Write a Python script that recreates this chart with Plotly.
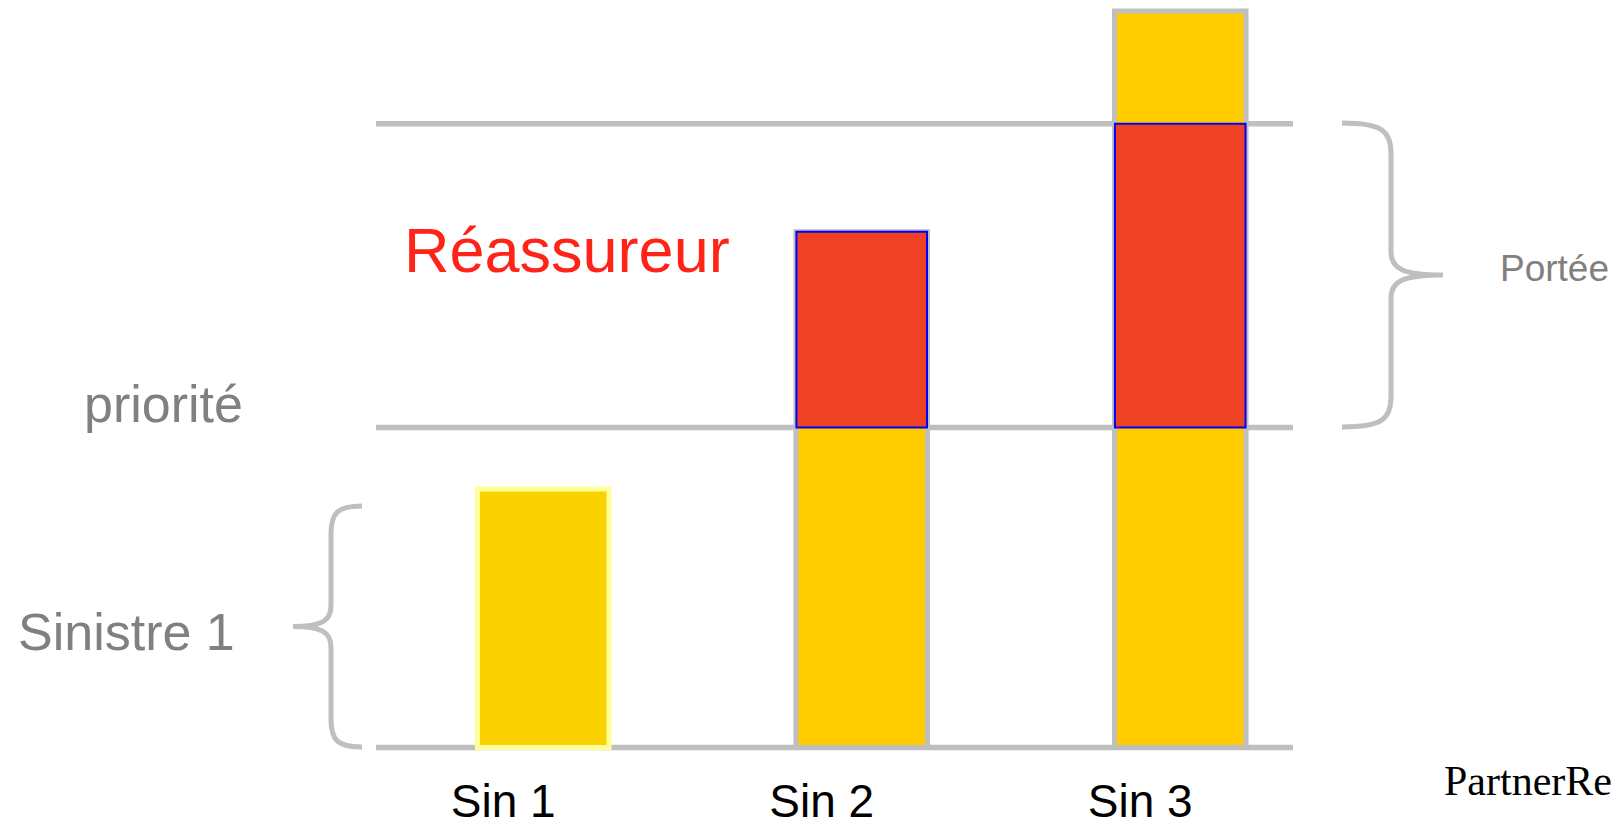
import plotly.graph_objects as go

# ---- data ----
categories = ["Sin 1", "Sin 2", "Sin 3"]
sinistres = [80.8, 161.2, 230.3]      # total claim amount per loss
priorite = 100                         # retention (priorité)
plafond = 195                          # retention + cover (portée)

reass_x = [c for c, v in zip(categories, sinistres) if v > priorite]
reass_part = [min(v, plafond) - priorite for v in sinistres if v > priorite]

# ---- layout constants ----
OFF = 8                      # default page body margin
W, H = 1623 - OFF, 825 - OFF
L, R, T, B = 376 - OFF, 330, 0, 68
YR = [-3, 231.2]
XR = [-0.525, 2.354]
PW, PH = W - L - R, H - T - B

GRAY = "#BFBFBF"
TXT_GRAY = "#808080"


def xp(px):
    # page pixel -> paper x
    return (px - OFF - L) / PW


def yp(py):
    # page pixel -> paper y
    return (H - B - (py - OFF)) / PH


def brace(xe, xs, xt, yt, yb, r, r2):
    ym = (yt + yb) / 2
    pts = [
        ("M", [(xe, yt)]),
        ("C", [(xe + (xs - xe) * 0.8, yt), (xs, yt + r * 0.25), (xs, yt + r)]),
        ("L", [(xs, ym - r2)]),
        ("C", [(xs, ym - r2 * 0.25), (xs + (xt - xs) * 0.25, ym), (xt, ym)]),
        ("C", [(xs + (xt - xs) * 0.25, ym), (xs, ym + r2 * 0.25), (xs, ym + r2)]),
        ("L", [(xs, yb - r)]),
        ("C", [(xs, yb - r * 0.25), (xe + (xs - xe) * 0.8, yb), (xe, yb)]),
    ]
    s = ""
    for cmd, ps in pts:
        s += cmd + " " + " ".join(f"{xp(a):.5f},{yp(b):.5f}" for a, b in ps) + " "
    return s.strip()


fig = go.Figure()

# total loss bars
fig.add_trace(go.Bar(
    x=categories, y=sinistres, base=0, width=0.413,
    marker=dict(color=["#FAD200", "#FFCC00", "#FFCC00"],
                line=dict(color=["#FFFF99", GRAY, GRAY], width=5)),
    hoverinfo="skip", showlegend=False,
))
# reinsurer layer
fig.add_trace(go.Bar(
    x=reass_x, y=reass_part, base=priorite, width=0.41,
    marker=dict(color="#EF4123", line=dict(color="#0000FF", width=2)),
    hoverinfo="skip", showlegend=False,
))

shapes = []
for lvl in [0, priorite, plafond]:
    shapes.append(dict(type="line", xref="paper", yref="y", x0=0, x1=1, y0=lvl, y1=lvl,
                       line=dict(color=GRAY, width=5.5), layer="below"))
shapes.append(dict(type="path", xref="paper", yref="paper",
                   path=brace(1342, 1391, 1443, 123, 427, 30, 23),
                   line=dict(color=GRAY, width=5)))
shapes.append(dict(type="path", xref="paper", yref="paper",
                   path=brace(362, 331, 293, 506, 747, 28, 21),
                   line=dict(color=GRAY, width=5)))

FONT = "Liberation Sans, Arial, sans-serif"
annotations = [
    dict(text="Réassureur", x=xp(567), y=yp(250), font=dict(size=63, color="#FF2318", family=FONT)),
    dict(text="priorité", x=xp(163), y=yp(404), font=dict(size=52, color=TXT_GRAY, family=FONT)),
    dict(text="Sinistre 1", x=xp(126), y=yp(632), font=dict(size=52, color=TXT_GRAY, family=FONT)),
    dict(text="Portée", x=xp(1554), y=yp(269), font=dict(size=37, color=TXT_GRAY, family=FONT)),
    dict(text="PartnerRe", x=xp(1528), y=yp(781),
         font=dict(size=42, color="#000000", family="Liberation Serif, Times New Roman, serif")),
]
for a in annotations:
    a.update(xref="paper", yref="paper", xanchor="center", yanchor="middle", showarrow=False)

fig.update_layout(
    width=W, height=H, autosize=False,
    margin=dict(l=L, r=R, t=T, b=B, pad=0, autoexpand=False),
    paper_bgcolor="white", plot_bgcolor="white",
    barmode="overlay",
    shapes=shapes, annotations=annotations,
    xaxis=dict(type="category", range=XR, showgrid=False, zeroline=False, showline=False,
               ticks="", tickfont=dict(size=46, color="#000000", family=FONT),
               ticklabelshift=-40, ticklabelstandoff=13, automargin=False, fixedrange=True),
    yaxis=dict(range=YR, showgrid=False, zeroline=False, showline=False,
               showticklabels=False, ticks="", automargin=False, fixedrange=True),
)

fig.write_html("out.html", config={"displayModeBar": False})
